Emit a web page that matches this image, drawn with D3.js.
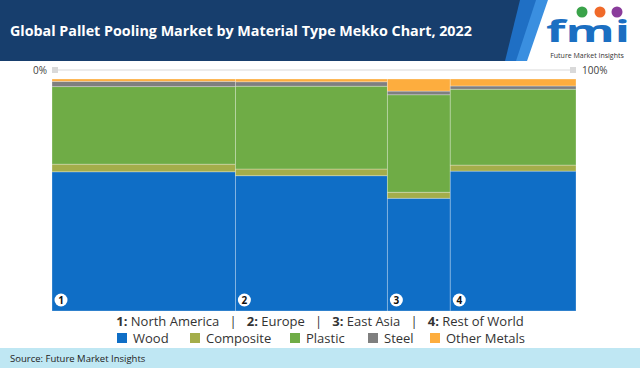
<!DOCTYPE html>
<html><head><meta charset="utf-8">
<script src="https://cdn.jsdelivr.net/npm/d3@7"></script>
<style>
html,body{margin:0;padding:0;background:#fff;}
svg{display:block;}
text{font-family:"Open Sans","Noto Sans",sans-serif;white-space:pre;}
</style></head>
<body><svg id="c" width="640" height="368"></svg>
<script>
// ---- data ----
const regions = ["North America", "Europe", "East Asia", "Rest of World"];
const regionShare = [35, 29, 12, 24];           // column widths (% of market)
const materials = ["Wood", "Composite", "Plastic", "Steel", "Other Metals"];
const wood       = [60.0, 58.3, 48.6, 60.3];
const composite  = [3.3, 2.9, 2.6, 2.6];
const plastic    = [33.4, 35.7, 42.0, 32.7];
const steel      = [2.3, 1.9, 1.6, 1.4];
const otherMetals= [1.0, 1.2, 5.2, 3.0];
const axisLabels = ["0%", "100%"];
const colors = ["#0f6ec6", "#a4ad4a", "#6fac46", "#7f7f7f", "#fdad3e"];
const title = "Global Pallet Pooling Market by Material Type Mekko Chart, 2022";
const source = "Source: Future Market Insights";

const series = [wood, composite, plastic, steel, otherMetals];
const svg = d3.select("#c");

// ---- header ----
svg.append("rect").attr("x",0).attr("y",0).attr("width",640).attr("height",61).attr("fill","#173e6d");
svg.append("path").attr("d","M520,0 L548,0 L526,61 L505,61 Z").attr("fill","#1f6fc4");
svg.append("path").attr("d","M536,0 L552,0 L530,61 L516,61 Z").attr("fill","#3a8fe0");
svg.append("path").attr("d","M548,0 L640,0 L640,61 L527,61 Z").attr("fill","#ffffff");
svg.append("text").attr("x",10).attr("y",36).attr("fill","#fff")
  .attr("font-size",14.3).attr("font-weight",700).text(title);
// logo
const logo = svg.append("g");
logo.append("text").attr("x",546).attr("y",42).attr("textLength",84).attr("lengthAdjust","spacingAndGlyphs")
  .attr("font-family","DejaVu Serif, serif").attr("font-weight",700).attr("font-size",30)
  .attr("fill","#1b6fc2").text("fmi");
[["#3aa34a",582],["#f06a2a",600],["#8a3c9b",617]].forEach(([c,x])=>{
  logo.append("circle").attr("cx",x).attr("cy",12).attr("r",5.5).attr("fill",c);
});
logo.append("text").attr("x",587).attr("y",58).attr("text-anchor","middle")
  .attr("font-size",7).attr("fill","#333").text("Future Market Insights");

// ---- chart ----
const x0 = 52, x1 = 576, yTop = 79, yBot = 311;
const total = d3.sum(regionShare);
const xs = d3.scaleLinear().domain([0,total]).range([x0,x1]);
const ys = d3.scaleLinear().domain([0,100]).range([yBot,yTop]);
const cum = d3.cumsum([0, ...regionShare]);

// top axis
const axY = 70;
svg.append("line").attr("x1",xs(0)+5).attr("x2",xs(total)-5).attr("y1",axY).attr("y2",axY)
  .attr("stroke","#d9d9d9").attr("stroke-width",1);
svg.append("rect").attr("x",xs(0)).attr("y",axY-3).attr("width",6).attr("height",6).attr("fill","#d9d9d9");
svg.append("rect").attr("x",xs(total)-6).attr("y",axY-3).attr("width",6).attr("height",6).attr("fill","#d9d9d9");
svg.append("text").attr("x",xs(0)-5).attr("y",axY+4).attr("text-anchor","end").attr("font-size",10).attr("fill","#404040").text(axisLabels[0]);
svg.append("text").attr("x",xs(total)+6).attr("y",axY+4).attr("font-size",10).attr("fill","#404040").text(axisLabels[1]);

const g = svg.append("g");
regions.forEach((r,i)=>{
  let acc = 0;
  series.forEach((s,k)=>{
    const v = s[i];
    g.append("rect")
      .attr("x",xs(cum[i])).attr("width",xs(cum[i+1])-xs(cum[i]))
      .attr("y",ys(acc+v)).attr("height",ys(acc)-ys(acc+v))
      .attr("fill",colors[k])
      .attr("stroke","rgba(255,255,255,0.35)").attr("stroke-width",0.8);
    acc += v;
  });
  const cx = xs(cum[i]) + 9;
  g.append("circle").attr("cx",cx).attr("cy",300).attr("r",6.5).attr("fill","#fff");
  g.append("text").attr("x",cx).attr("y",304).attr("text-anchor","middle")
    .attr("font-size",10).attr("font-weight",700).attr("fill","#111").text(i+1);
});

// ---- legends ----
const lg1 = svg.append("text").attr("x",320).attr("y",326).attr("text-anchor","middle")
  .attr("font-size",13).attr("fill","#333");
regions.forEach((r,i)=>{
  lg1.append("tspan").attr("font-weight",700).text((i+1)+":");
  lg1.append("tspan").text(" "+r);
  if(i<regions.length-1) lg1.append("tspan").text("   |   ");
});

const lg2 = svg.append("g");
const itemX = [117, 190, 290, 368, 430];
materials.forEach((m,k)=>{
  lg2.append("rect").attr("x",itemX[k]).attr("y",333).attr("width",10).attr("height",10).attr("fill",colors[k]);
  lg2.append("text").attr("x",itemX[k]+16).attr("y",343).attr("font-size",13).attr("fill","#333").text(m);
});

// ---- footer ----
svg.append("rect").attr("x",0).attr("y",348).attr("width",640).attr("height",20).attr("fill","#bfe7f3");
svg.append("text").attr("x",10).attr("y",362).attr("font-size",9.5).attr("fill","#222").text(source);
</script></body></html>
